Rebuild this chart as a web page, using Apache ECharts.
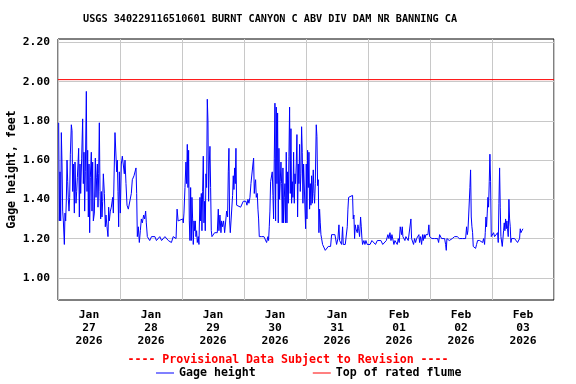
<!DOCTYPE html>
<html><head><meta charset="utf-8">
<script src="https://cdn.jsdelivr.net/npm/echarts@6/dist/echarts.min.js"></script>
<style>html,body{margin:0;padding:0;background:#fff}#c{width:576px;height:384px}</style>
</head><body><div id="c"></div>
<script>
// Hours since 2026-01-27 00:00 and gage height (feet)
const hoursSinceJan27 = [
0.26,0.52,0.78,1.04,1.29,1.55,1.81,2.07,2.46,2.71,2.97,3.23,3.49,3.75,4.00,4.26,4.52,4.78,5.16,5.42,
5.68,5.94,6.33,6.58,6.97,7.23,7.49,7.74,8.00,8.26,8.52,8.78,9.16,9.55,9.81,10.07,10.32,10.58,10.97,11.23,
11.49,11.74,12.00,12.26,12.52,12.90,13.16,13.42,13.68,14.07,14.45,14.71,14.97,15.23,15.48,15.74,16.00,16.26,16.52,16.77,
17.03,17.29,17.55,17.94,18.32,18.58,18.97,19.35,19.61,19.87,20.26,20.64,21.16,21.42,21.80,22.06,22.45,22.71,22.97,23.22,
23.48,23.74,24.13,24.51,24.90,25.29,25.67,25.93,26.32,26.71,27.22,27.87,28.38,28.77,29.42,30.19,30.45,30.71,31.10,31.48,
31.87,32.26,32.64,33.16,33.55,33.93,34.19,34.58,34.9,35.5,36.2,36.8,37.5,38.1,38.8,39.4,40.1,40.7,41.4,42.0,
42.7,43.3,43.9,44.6,45.2,45.7,46.1,46.5,47.2,48.3,
48.50,48.76,49.15,49.53,49.79,50.05,50.31,50.56,50.82,51.08,51.34,51.60,51.85,52.11,52.37,52.63,52.89,53.14,53.40,53.66,
53.92,54.30,54.56,54.95,55.20,55.47,55.72,55.98,56.24,56.50,56.76,57.00,57.27,57.53,57.79,58.05,58.30,58.56,58.82,59.08,
59.34,59.60,59.85,60.24,60.63,61.14,61.66,62.05,62.30,62.69,63.08,63.34,63.72,64.11,64.50,64.88,65.27,65.66,65.92,66.17,
66.43,66.69,66.95,67.20,67.59,67.85,68.11,68.37,68.62,68.88,69.14,69.79,70.69,71.33,71.72,72.10,72.49,72.75,73.14,73.53,
73.91,74.30,74.69,75.07,75.46,75.72,75.98,76.24,76.49,76.75,77.14,77.40,77.65,77.91,78.43,78.82,79.20,79.72,80.23,80.75,
81.27,81.52,81.78,82.04,82.30,82.69,82.94,83.20,83.46,83.72,83.98,84.23,84.49,84.75,85.01,85.27,85.52,85.78,86.04,86.30,
86.56,86.81,87.07,87.33,87.59,87.85,88.10,88.36,88.62,88.88,89.14,89.39,89.65,89.91,90.17,90.43,90.68,90.94,91.20,91.46,
91.72,91.97,92.23,92.49,92.75,93.01,93.26,93.52,93.78,94.04,94.30,94.55,94.81,95.07,
95.85,96.10,96.36,96.62,96.88,97.14,97.39,97.65,97.91,98.17,98.43,98.81,99.07,99.33,99.59,99.97,100.23,100.49,100.75,101.00,
101.26,101.52,101.78,102.04,102.42,102.68,103.07,103.46,103.84,104.23,104.62,105.00,105.52,105.91,106.55,107.20,107.58,107.84,108.10,108.36,
108.75,109.00,109.39,109.78,110.16,110.42,110.81,111.20,111.58,111.97,112.23,112.49,113.26,114.03,114.29,114.55,114.81,115.07,115.32,115.58,
115.84,116.10,116.36,116.74,117.13,117.39,117.65,117.90,118.42,118.81,119.19,119.71,120.10,120.8,121.5,122.2,122.9,123.6,124.3,125.0,
125.7,126.4,127.1,127.70,128.10,128.50,128.90,129.26,129.77,130.03,130.42,130.80,131.32,131.71,132.09,132.48,132.74,133.00,133.26,133.51,
133.90,134.29,134.67,135.19,135.58,135.96,136.35,136.61,136.87,137.25,137.64,138.03,138.42,138.80,139.19,139.70,139.96,140.35,140.74,141.12,
141.38,141.77,142.03,142.41,142.80,143.19,143.57,
143.85,144.23,144.75,145.26,145.78,146.17,146.55,146.94,147.33,147.72,148.10,148.49,148.88,149.26,149.65,150.04,150.30,150.55,150.94,151.46,
151.84,152.23,152.62,153.00,153.52,153.91,154.29,154.55,154.94,155.33,155.71,156.10,156.62,157.13,157.78,158.16,158.42,158.68,158.94,159.20,
159.45,159.71,159.97,160.23,160.49,160.74,161.00,161.26,161.65,162.03,162.42,162.81,163.20,163.58,163.97,164.36,164.74,165.13,165.39,165.65,
165.90,166.16,166.42,166.68,166.94,167.19,167.45,167.71,167.97,168.23,168.61,169.00,169.39,169.77,170.16,170.42,170.68,170.94,171.19,171.45,
171.71,171.97,172.23,172.48,172.74,173.00,173.26,173.52,173.77,174.03,174.29,174.55,174.81,175.06,175.32,175.58,175.97,176.35,176.74,177.13,
177.51,177.90,178.29,178.68,178.93,179.19,179.45,179.71,179.97,180.22
];
const gageHeightFt = [
1.79,1.29,1.54,1.29,1.74,1.58,1.34,1.29,1.17,1.33,1.29,1.40,1.60,1.49,1.40,1.34,1.41,1.63,1.78,1.75,
1.44,1.58,1.33,1.59,1.38,1.44,1.51,1.58,1.66,1.31,1.58,1.43,1.61,1.81,1.48,1.64,1.34,1.54,1.95,1.44,
1.65,1.31,1.58,1.23,1.51,1.64,1.34,1.59,1.29,1.33,1.61,1.41,1.51,1.58,1.36,1.53,1.79,1.44,1.30,1.44,
1.31,1.39,1.53,1.43,1.26,1.32,1.26,1.21,1.36,1.29,1.34,1.36,1.41,1.33,1.58,1.74,1.74,1.54,1.60,1.44,
1.26,1.54,1.33,1.58,1.62,1.63,1.53,1.60,1.48,1.37,1.35,1.36,1.43,1.50,1.52,1.56,1.43,1.21,1.26,1.18,
1.24,1.30,1.28,1.32,1.30,1.34,1.28,1.21,1.20,1.19,1.21,1.20,1.21,1.19,1.20,1.21,1.19,1.20,1.21,1.20,
1.19,1.20,1.18,1.21,1.20,1.20,1.35,1.29,1.30,1.30,
1.28,1.33,1.46,1.59,1.48,1.68,1.46,1.65,1.29,1.19,1.46,1.19,1.41,1.30,1.17,1.29,1.24,1.29,1.21,1.24,
1.18,1.21,1.17,1.41,1.29,1.43,1.24,1.44,1.62,1.28,1.39,1.24,1.53,1.46,1.91,1.80,1.39,1.58,1.67,1.46,
1.24,1.21,1.20,1.22,1.23,1.24,1.23,1.35,1.24,1.32,1.23,1.29,1.26,1.29,1.23,1.24,1.34,1.31,1.54,1.66,
1.29,1.23,1.22,1.24,1.42,1.52,1.45,1.56,1.48,1.66,1.37,1.36,1.36,1.37,1.39,1.40,1.38,1.39,1.37,1.40,
1.38,1.41,1.48,1.48,1.58,1.61,1.43,1.48,1.50,1.41,1.43,1.35,1.30,1.21,1.22,1.21,1.21,1.21,1.20,1.18,
1.21,1.19,1.26,1.34,1.49,1.50,1.54,1.42,1.30,1.61,1.89,1.29,1.87,1.48,1.84,1.28,1.66,1.40,1.49,1.59,
1.48,1.28,1.56,1.28,1.41,1.48,1.28,1.64,1.28,1.54,1.38,1.62,1.87,1.43,1.76,1.38,1.49,1.41,1.64,1.38,
1.53,1.48,1.58,1.73,1.31,1.58,1.48,1.68,1.44,1.53,1.77,1.64,1.38,1.58,
1.25,1.58,1.30,1.65,1.46,1.64,1.35,1.48,1.37,1.52,1.38,1.55,1.43,1.38,1.48,1.78,1.72,1.47,1.50,1.23,
1.35,1.28,1.22,1.20,1.17,1.18,1.16,1.14,1.15,1.14,1.16,1.15,1.16,1.22,1.23,1.22,1.23,1.17,1.18,1.20,
1.27,1.19,1.20,1.17,1.26,1.17,1.18,1.17,1.17,1.26,1.35,1.41,1.42,1.42,1.30,1.32,1.20,1.27,1.25,1.26,
1.23,1.27,1.25,1.21,1.31,1.26,1.20,1.17,1.19,1.17,1.19,1.17,1.18,1.17,1.19,1.18,1.17,1.19,1.18,1.19,
1.17,1.18,1.19,1.22,1.20,1.23,1.19,1.22,1.23,1.17,1.19,1.18,1.17,1.20,1.18,1.26,1.25,1.22,1.26,1.21,
1.20,1.19,1.21,1.20,1.19,1.20,1.19,1.30,1.20,1.19,1.17,1.20,1.18,1.20,1.19,1.22,1.18,1.21,1.17,1.22,
1.19,1.22,1.20,1.22,1.23,1.22,1.27,
1.21,1.20,1.20,1.19,1.20,1.19,1.20,1.20,1.18,1.22,1.21,1.20,1.20,1.20,1.20,1.17,1.14,1.20,1.20,1.19,
1.18,1.20,1.20,1.21,1.21,1.22,1.20,1.21,1.20,1.20,1.19,1.20,1.20,1.20,1.20,1.26,1.22,1.24,1.31,1.30,
1.46,1.55,1.31,1.26,1.23,1.16,1.15,1.16,1.15,1.17,1.19,1.18,1.19,1.18,1.19,1.18,1.20,1.17,1.23,1.31,
1.26,1.33,1.41,1.36,1.49,1.63,1.49,1.21,1.20,1.21,1.23,1.21,1.22,1.21,1.23,1.18,1.38,1.56,1.36,1.21,
1.20,1.16,1.20,1.24,1.28,1.24,1.30,1.25,1.29,1.25,1.21,1.40,1.30,1.26,1.18,1.20,1.19,1.20,1.20,1.20,
1.19,1.18,1.19,1.20,1.25,1.23,1.24,1.22,1.25,1.25
];
const flumeTopFt = 2.01;
const yTickValues = [1.0, 1.2, 1.4, 1.6, 1.8, 2.0, 2.2];
const dayLabelHours = [12, 36, 60, 84, 108, 132, 156, 180];
const dayLabels = ['Jan\n27\n2026','Jan\n28\n2026','Jan\n29\n2026','Jan\n30\n2026','Jan\n31\n2026','Feb\n01\n2026','Feb\n02\n2026','Feb\n03\n2026'];

const FONT = 'DejaVu Sans Mono';
const gageData = hoursSinceJan27.map((h, i) => [h, gageHeightFt[i]]);
const chart = echarts.init(document.getElementById('c'), null, {renderer: 'canvas'});
chart.setOption({
  animation: false,
  backgroundColor: '#fff',
  title: [
    {text: 'USGS 340229116510601 BURNT CANYON C ABV DIV DAM NR BANNING CA', left: 78, top: 9.5,
     textStyle: {fontFamily: FONT, fontSize: 10.2, fontWeight: 'bold', color: '#000'}},
    {text: '---- Provisional Data Subject to Revision ----', left: 'center', top: 349,
     textStyle: {fontFamily: FONT, fontSize: 11.6, fontWeight: 'bold', color: '#ff0000'}}
  ],
  legend: {
    left: 151, top: 362, itemWidth: 18, itemHeight: 1, itemGap: 57, icon: 'rect',
    textStyle: {fontFamily: FONT, fontSize: 11.6, fontWeight: 'bold', color: '#000'},
    data: ['Gage height', 'Top of rated flume']
  },
  grid: {left: 58, right: 22, top: 39, bottom: 84, show: true, borderColor: '#000', borderWidth: 1,
    containLabel: false, outerBoundsMode: 'none'},
  xAxis: {
    type: 'value', min: 0, max: 192, interval: 24,
    axisLine: {show: false}, axisTick: {show: false},
    splitLine: {show: true, lineStyle: {color: '#c8c8c8', width: 1}},
    axisLabel: {customValues: dayLabelHours, formatter: v => dayLabels[Math.round((v - 12) / 24)],
      fontFamily: FONT, fontSize: 11.3, fontWeight: 'bold', color: '#000', lineHeight: 13, margin: 9}
  },
  yAxis: {
    type: 'value', min: 0.887, max: 2.217,
    name: 'Gage height, feet', nameLocation: 'middle', nameGap: 40, nameRotate: 90, nameMoveOverlap: false,
    nameTextStyle: {fontFamily: FONT, fontSize: 11.6, fontWeight: 'bold', color: '#000'},
    axisLine: {show: false},
    axisTick: {show: false, customValues: yTickValues},
    splitLine: {show: true, lineStyle: {color: '#c8c8c8', width: 1}},
    axisLabel: {customValues: yTickValues, formatter: v => v.toFixed(2),
      fontFamily: FONT, fontSize: 11.3, fontWeight: 'bold', color: '#000', margin: 8}
  },
  series: [
    {name: 'Gage height', type: 'line', data: gageData, showSymbol: false, color: '#0000ff',
     lineStyle: {color: '#0000ff', width: 1}, z: 3},
    {name: 'Top of rated flume', type: 'line', data: [[0, flumeTopFt], [192, flumeTopFt]], showSymbol: false,
     color: '#ff0000', lineStyle: {color: '#ff0000', width: 1}, z: 2}
  ]
});
</script>
</body></html>
